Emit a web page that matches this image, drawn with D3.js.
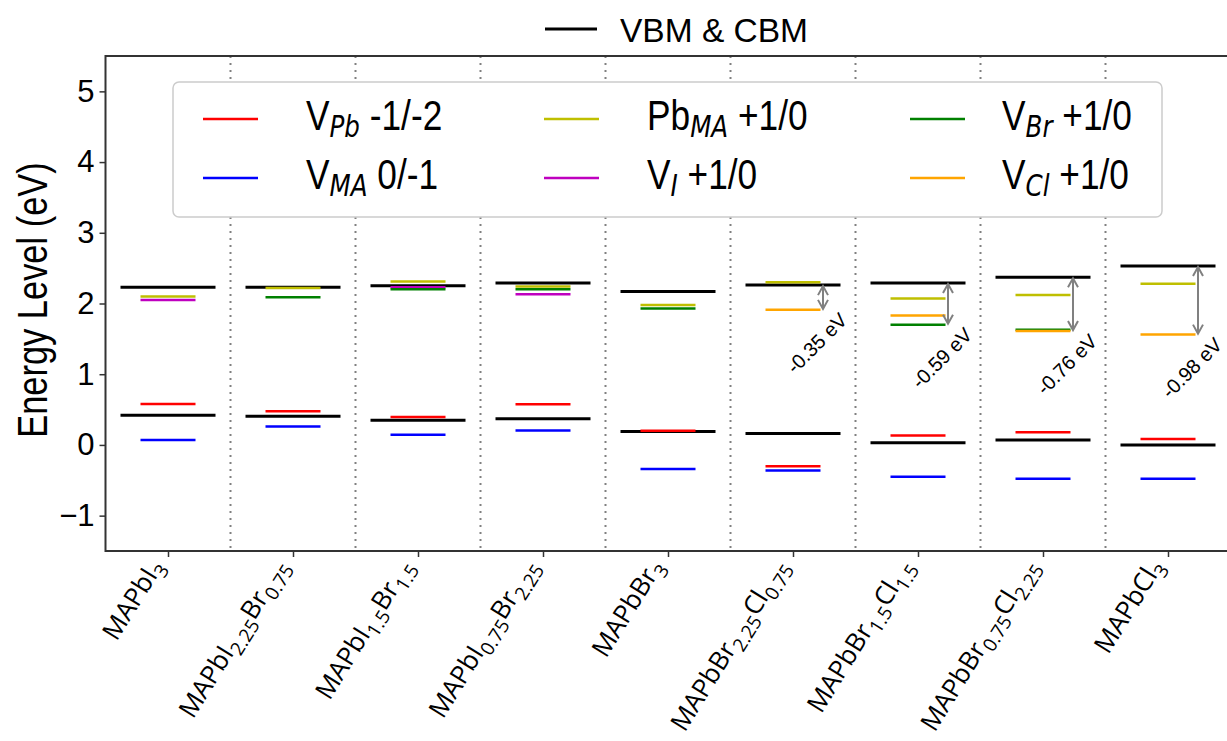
<!DOCTYPE html>
<html>
<head>
<meta charset="utf-8">
<script src="https://cdn.jsdelivr.net/npm/d3@7"></script>
<style>
body{margin:0;background:#fff;}
text{white-space:pre;}
</style>
</head>
<body>
<div id="chart"></div>
<script>
// values (eV)
var categories = ["MAPbI_{3}", "MAPbI_{2.25}Br_{0.75}", "MAPbI_{1.5}Br_{1.5}", "MAPbI_{0.75}Br_{2.25}",
  "MAPbBr_{3}", "MAPbBr_{2.25}Cl_{0.75}", "MAPbBr_{1.5}Cl_{1.5}", "MAPbBr_{0.75}Cl_{2.25}", "MAPbCl_{3}"];
var vbm  = [0.42, 0.405, 0.35, 0.37, 0.19, 0.16, 0.03, 0.07, 0.0];
var cbm  = [2.23, 2.23, 2.25, 2.29, 2.17, 2.26, 2.29, 2.37, 2.53];
var vPb  = [0.58, 0.475, 0.395, 0.575, 0.20, -0.30, 0.135, 0.18, 0.085];
var vMA  = [0.07, 0.26, 0.145, 0.205, -0.34, -0.36, -0.45, -0.48, -0.48];
var pbMA = [2.10, 2.22, 2.31, 2.24, 1.98, 2.30, 2.07, 2.12, 2.28];
var vI   = [2.05, null, 2.23, 2.13, null, null, null, null, null];
var vBr  = [null, 2.09, 2.20, 2.20, 1.93, null, 1.70, 1.63, null];
var vCl  = [null, null, null, null, null, 1.91, 1.83, 1.61, 1.56];

var seriesNames  = ["V_{Pb} -1/-2", "V_{MA} 0/-1", "Pb_{MA} +1/0", "V_{I} +1/0", "V_{Br} +1/0", "V_{Cl} +1/0"];
var seriesColors = ["#ff0000", "#0000ff", "#bfbf00", "#bf00bf", "#008000", "#ffa500"];
var series = [vPb, vMA, pbMA, vI, vBr, vCl];
var upperSeries = [pbMA, vI, vBr, vCl];

var gapCats   = [5, 6, 7, 8];
var gapLabels = ["-0.35 eV", "-0.59 eV", "-0.76 eV", "-0.98 eV"];
var yTicks = [-1, 0, 1, 2, 3, 4, 5];

var width = 1227, height = 741;
var svg = d3.select("#chart").append("svg").attr("width", width).attr("height", height);

var x = d3.scaleLinear().domain([-0.5, 8.5]).range([105.5, 1230.5]);
var y = d3.scaleLinear().domain([-1.5, 5.5]).range([551, 56]);

// split "MAPbI_{2.25}" into normal/subscript runs
function parts(s) {
  var out = [], re = /_\{([^}]*)\}/g, last = 0, m;
  while ((m = re.exec(s))) {
    if (m.index > last) out.push({t: s.slice(last, m.index), sub: false});
    out.push({t: m[1], sub: true});
    last = re.lastIndex;
  }
  if (last < s.length) out.push({t: s.slice(last), sub: false});
  return out;
}
function addParts(txt, s, subSize, shift, italic) {
  var prevSub = false;
  parts(s).forEach(function(d) {
    var ts = txt.append("tspan").text(d.t);
    if (d.sub) {
      ts.attr("font-size", subSize).attr("dy", shift);
      if (italic) ts.attr("font-style", "italic").attr("font-family", "DejaVu Sans");
      prevSub = true;
    } else {
      if (prevSub) ts.attr("dy", -shift);
      prevSub = false;
    }
  });
}

// dotted separators
svg.append("g").selectAll("line")
  .data(d3.range(categories.length - 1))
  .enter().append("line")
  .attr("x1", function(d) { return x(d + 0.5); })
  .attr("x2", function(d) { return x(d + 0.5); })
  .attr("y1", y(5.5)).attr("y2", y(-1.5))
  .attr("stroke", "#808080").attr("stroke-width", 2).attr("stroke-dasharray", "2,5");

// VBM & CBM
var edges = svg.append("g");
[vbm, cbm].forEach(function(arr) {
  edges.selectAll(null).data(arr).enter().append("line")
    .attr("x1", function(d, i) { return x(i - 0.38); })
    .attr("x2", function(d, i) { return x(i + 0.38); })
    .attr("y1", function(d) { return y(d); })
    .attr("y2", function(d) { return y(d); })
    .attr("stroke", "#000").attr("stroke-width", 3);
});

// defect levels
var levels = svg.append("g");
series.forEach(function(arr, k) {
  levels.selectAll(null)
    .data(arr.map(function(v, i) { return {i: i, v: v}; }).filter(function(d) { return d.v !== null; }))
    .enter().append("line")
    .attr("x1", function(d) { return x(d.i - 0.22); })
    .attr("x2", function(d) { return x(d.i + 0.22); })
    .attr("y1", function(d) { return y(d.v); })
    .attr("y2", function(d) { return y(d.v); })
    .attr("stroke", seriesColors[k]).attr("stroke-width", 2.5);
});

// gap arrows + labels
var gaps = svg.append("g");
gapCats.forEach(function(c, k) {
  var low = d3.min(upperSeries, function(s) { return s[c] === null ? undefined : s[c]; });
  var ax = x(c + 0.24), y1 = y(cbm[c]) + 1, y2 = y(low) - 1;
  gaps.append("line").attr("x1", ax).attr("x2", ax).attr("y1", y1).attr("y2", y2)
    .attr("stroke", "#808080").attr("stroke-width", 2);
  gaps.append("path")
    .attr("d", "M" + (ax - 5) + "," + (y1 + 9) + "L" + ax + "," + y1 + "L" + (ax + 5) + "," + (y1 + 9) +
               "M" + (ax - 5) + "," + (y2 - 9) + "L" + ax + "," + y2 + "L" + (ax + 5) + "," + (y2 - 9))
    .attr("fill", "none").attr("stroke", "#808080").attr("stroke-width", 2);
  gaps.append("text")
    .attr("transform", "translate(" + x(c + 0.19) + "," + y(low - 0.47) + ") rotate(-45)")
    .attr("text-anchor", "middle").attr("dominant-baseline", "central")
    .attr("font-family", "Liberation Sans, Arial, sans-serif").attr("font-size", 20)
    .text(gapLabels[k]);
});

// axes
var yAxis = svg.append("g").attr("transform", "translate(" + x(-0.5) + ",0)")
  .call(d3.axisLeft(y).tickValues(yTicks).tickSize(6).tickPadding(5).tickFormat(d3.format("d")));
var xAxis = svg.append("g").attr("transform", "translate(0," + y(-1.5) + ")")
  .call(d3.axisBottom(x).tickValues(d3.range(categories.length)).tickSize(6).tickFormat(""));
[yAxis, xAxis].forEach(function(a) {
  a.select(".domain").remove();
  a.selectAll(".tick line").attr("stroke", "#333").attr("stroke-width", 1.5);
});
yAxis.selectAll(".tick text").attr("font-family", "Liberation Sans, Arial, sans-serif")
  .attr("font-size", 31).attr("fill", "#000");

svg.append("rect")
  .attr("x", x(-0.5)).attr("y", y(5.5))
  .attr("width", x(8.5) - x(-0.5)).attr("height", y(-1.5) - y(5.5))
  .attr("fill", "none").attr("stroke", "#333").attr("stroke-width", 2);

// category labels
svg.append("g").selectAll("text")
  .data(categories)
  .enter().append("text")
  .attr("transform", function(d, i) { return "translate(" + (x(i) - 4) + "," + 566 + ") rotate(-58)"; })
  .attr("text-anchor", "end")
  .attr("font-family", "Open Sans, sans-serif").attr("font-size", 26)
  .each(function(d) { addParts(d3.select(this), d, 19, 7, false); });

// y label
svg.append("text")
  .attr("transform", "translate(47,300) rotate(-90) scale(0.82,1)")
  .attr("text-anchor", "middle")
  .attr("font-family", "Liberation Sans, Arial, sans-serif").attr("font-size", 42)
  .text("Energy Level (eV)");

// defect legend
var leg = svg.append("g");
leg.append("rect").attr("x", 173).attr("y", 82).attr("width", 989).attr("height", 135)
  .attr("rx", 6).attr("fill", "#fff").attr("stroke", "#cccccc").attr("stroke-width", 1.5);
var colX = [203, 544, 910], textX = [306, 647, 1002], rowY = [119, 178];
seriesNames.forEach(function(name, k) {
  var c = Math.floor(k / 2), r = k % 2;
  leg.append("line").attr("x1", colX[c]).attr("x2", colX[c] + 55)
    .attr("y1", rowY[r]).attr("y2", rowY[r])
    .attr("stroke", seriesColors[k]).attr("stroke-width", 2.5);
  var t = leg.append("text")
    .attr("transform", "translate(" + textX[c] + "," + (rowY[r] + 11) + ") scale(0.82,1)")
    .attr("font-family", "Liberation Sans, Arial, sans-serif").attr("font-size", 43);
  addParts(t, name, 30, 7, true);
});

// VBM & CBM legend
svg.append("line").attr("x1", 545).attr("x2", 597).attr("y1", 29).attr("y2", 29)
  .attr("stroke", "#000").attr("stroke-width", 3);
svg.append("text").attr("x", 620).attr("y", 42)
  .attr("font-family", "Liberation Sans, Arial, sans-serif").attr("font-size", 33.5)
  .text("VBM & CBM");
</script>
</body>
</html>
